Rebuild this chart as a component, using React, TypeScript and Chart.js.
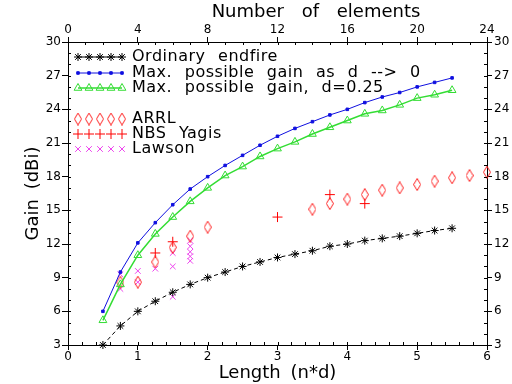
import React, { useEffect, useRef } from "react";
import { Chart, registerables } from "chart.js";
import { drawPoint } from "chart.js/helpers";

Chart.register(...registerables);

// ---- data ----
const lengthPoints = [0.5, 0.75, 1, 1.25, 1.5, 1.75, 2, 2.25, 2.5, 2.75, 3, 3.25, 3.5, 3.75, 4, 4.25, 4.5, 4.75, 5, 5.25, 5.5];
const endfireGain = [3.0, 4.7, 6.0, 6.9, 7.7, 8.4, 9.0, 9.5, 10.0, 10.4, 10.8, 11.1, 11.4, 11.8, 12.0, 12.3, 12.5, 12.7, 12.95, 13.2, 13.4];
const maxGainD0 = [6.0, 9.5, 12.1, 13.9, 15.5, 16.9, 18.0, 19.0, 19.9, 20.8, 21.6, 22.3, 22.9, 23.5, 24.0, 24.6, 25.1, 25.5, 26.0, 26.4, 26.8];
const maxGainD025 = [5.2, 8.4, 11.0, 12.9, 14.4, 15.8, 17.0, 18.1, 18.9, 19.8, 20.5, 21.1, 21.8, 22.4, 23.0, 23.6, 23.9, 24.4, 25.0, 25.3, 25.7];

const arrlLength = [0.75, 1, 1.25, 1.5, 1.75, 2, 3.5, 3.75, 4, 4.25, 4.5, 4.75, 5, 5.25, 5.5, 5.75, 6];
const arrlGain = [8.6, 8.6, 10.4, 11.7, 12.7, 13.5, 15.1, 15.6, 16.0, 16.4, 16.8, 17.0, 17.3, 17.6, 17.9, 18.1, 18.4];

const nbsLength = [1.25, 1.5, 3.0, 3.75, 4.25];
const nbsGain = [11.2, 12.2, 14.4, 16.4, 15.6];

const lawsonLength = [0.75, 0.75, 1, 1, 1.25, 1.5, 1.5, 1.5, 1.75, 1.75, 1.75, 1.75, 1.75];
const lawsonGain = [9.3, 8.0, 9.6, 8.6, 9.8, 11.2, 10.0, 7.3, 12.3, 11.8, 11.3, 10.9, 10.5];

const seriesLabels = [
  "Ordinary endfire",
  "Max. possible gain as d --> 0",
  "Max. possible gain, d=0.25",
  "ARRL",
  "NBS Yagis",
  "Lawson",
];

const lengthTicks = [0, 1, 2, 3, 4, 5, 6];
const elementTicks = [0, 4, 8, 12, 16, 20, 24];
const gainTicks = [3, 6, 9, 12, 15, 18, 21, 24, 27, 30];

const xTitle = "Length (n*d)";
const topTitle = "Number of elements";
const yTitle = "Gain (dBi)";

const FONT = "'DejaVu Sans', sans-serif";

const pts = (xs: number[], ys: number[]) => xs.map((x, i) => ({ x, y: ys[i] }));

function makeDiamond(color: string) {
  const c = document.createElement("canvas");
  c.width = 8;
  c.height = 13;
  const g = c.getContext("2d")!;
  g.strokeStyle = color;
  g.lineWidth = 1;
  g.beginPath();
  g.moveTo(4, 0.5);
  g.lineTo(7.5, 6.5);
  g.lineTo(4, 12.5);
  g.lineTo(0.5, 6.5);
  g.closePath();
  g.stroke();
  return c;
}

export default function App() {
  const ref = useRef<HTMLCanvasElement>(null);

  useEffect(() => {
    if (!ref.current) return;
    const diamond = makeDiamond("#ff2020");

    const styles = [
      { color: "#000000", fill: "rgba(0,0,0,0)", pointStyle: "star", radius: 4, line: true, lineWidth: 1, dash: [4, 3] },
      { color: "#1010e0", fill: "#1010e0", pointStyle: "rect", radius: 1.8, line: true, lineWidth: 1, dash: [] },
      { color: "#33dd33", fill: "rgba(0,0,0,0)", pointStyle: "triangle", radius: 4.5, line: true, lineWidth: 1.5, dash: [] },
      { color: "#ff2020", fill: "rgba(0,0,0,0)", pointStyle: diamond as any, radius: 5, line: false, lineWidth: 1, dash: [] },
      { color: "#ff0000", fill: "rgba(0,0,0,0)", pointStyle: "cross", radius: 5, line: false, lineWidth: 1, dash: [] },
      { color: "#ee44ee", fill: "rgba(0,0,0,0)", pointStyle: "crossRot", radius: 4, line: false, lineWidth: 1, dash: [] },
    ];

    const seriesData = [
      pts(lengthPoints, endfireGain),
      pts(lengthPoints, maxGainD0),
      pts(lengthPoints, maxGainD025),
      pts(arrlLength, arrlGain),
      pts(nbsLength, nbsGain),
      pts(lawsonLength, lawsonGain),
    ];

    const datasets = seriesData.map((d, i) => {
      const s = styles[i];
      return {
        label: seriesLabels[i],
        data: d,
        xAxisID: "x",
        yAxisID: "y",
        showLine: s.line,
        borderColor: s.color,
        borderWidth: s.lineWidth,
        borderDash: s.dash,
        backgroundColor: s.fill,
        pointStyle: s.pointStyle,
        pointRadius: s.radius,
        pointBorderWidth: 1,
        pointBorderColor: s.color,
        pointBackgroundColor: s.fill,
        tension: 0,
        clip: false as any,
      };
    });

    const decor = {
      id: "decor",
      beforeDraw(chart: any) {
        const ctx = chart.ctx;
        ctx.save();
        ctx.fillStyle = "#ffffff";
        ctx.fillRect(0, 0, chart.width, chart.height);
        ctx.restore();
        (ctx as any).wordSpacing = "4px";
      },
      afterDraw(chart: any) {
        const ctx = chart.ctx as CanvasRenderingContext2D;
        const { x, x2, y, y2 } = chart.scales;
        const area = chart.chartArea;
        ctx.save();
        ctx.strokeStyle = "#000";
        ctx.lineWidth = 1;
        ctx.beginPath();
        // inward minor ticks
        for (let v = 0; v <= 6.0001; v += 0.2) {
          const px = Math.round(x.getPixelForValue(v)) + 0.5;
          ctx.moveTo(px, area.bottom);
          ctx.lineTo(px, area.bottom - 3);
        }
        for (let v = 0; v <= 24; v += 1) {
          const px = Math.round(x2.getPixelForValue(v)) + 0.5;
          ctx.moveTo(px, area.top);
          ctx.lineTo(px, area.top + 3);
        }
        for (let v = 3; v <= 30; v += 1) {
          const py = Math.round(y.getPixelForValue(v)) + 0.5;
          ctx.moveTo(area.left, py);
          ctx.lineTo(area.left + 3, py);
          const py2 = Math.round(y2.getPixelForValue(v)) + 0.5;
          ctx.moveTo(area.right, py2);
          ctx.lineTo(area.right - 3, py2);
        }
        ctx.stroke();

        // top title
        ctx.fillStyle = "#000";
        ctx.font = `18px ${FONT}`;
        (ctx as any).wordSpacing = "12px";
        ctx.textAlign = "center";
        ctx.textBaseline = "middle";
        ctx.fillText(topTitle, 316, 12);

        // legend
        const rows = [57, 73, 88, 119, 134, 149];
        const markX = [78, 89, 100, 111, 122];
        ctx.font = `16px ${FONT}`;
        (ctx as any).wordSpacing = "7px";
        (ctx as any).letterSpacing = "0.5px";
        ctx.textAlign = "left";
        rows.forEach((ry, i) => {
          const s = styles[i];
          if (s.line) {
            ctx.strokeStyle = s.color;
            ctx.lineWidth = s.lineWidth;
            ctx.beginPath();
            ctx.moveTo(markX[0], ry);
            ctx.lineTo(markX[4], ry);
            ctx.stroke();
          }
          ctx.strokeStyle = s.color;
          ctx.fillStyle = s.fill;
          ctx.lineWidth = 1;
          markX.forEach((mx) => {
            drawPoint(ctx, { pointStyle: s.pointStyle, radius: s.radius, rotation: 0, borderWidth: 1 } as any, mx, ry);
          });
          ctx.fillStyle = "#000";
          ctx.fillText(seriesLabels[i], 132, ry);
        });
        ctx.restore();
      },
    };

    const tickFont = { family: FONT, size: 12 };
    const titleFont = { family: FONT, size: 18 };
    const grid = { drawOnChartArea: false, drawTicks: true, tickLength: 5, color: "#000", tickColor: "#000", lineWidth: 1 };
    const border = { display: true, color: "#000", width: 1 };

    const chart = new Chart(ref.current, {
      type: "scatter",
      data: { datasets: datasets as any },
      plugins: [decor],
      options: {
        responsive: false,
        animation: false,
        events: [],
        layout: { padding: 0 },
        plugins: { legend: { display: false }, tooltip: { enabled: false }, title: { display: false } },
        scales: {
          x: {
            type: "linear",
            axis: "x",
            position: "bottom",
            min: 0,
            max: 6,
            afterBuildTicks: (s: any) => { s.ticks = lengthTicks.map((v) => ({ value: v })); },
            afterFit: (s: any) => { s.height = 39; },
            grid,
            border,
            ticks: { color: "#000", font: tickFont, padding: 0, maxRotation: 0, autoSkip: false },
            title: { display: true, text: xTitle, color: "#000", font: titleFont, padding: { top: 0, bottom: 0 } },
          },
          x2: {
            type: "linear",
            axis: "x",
            position: "top",
            min: 0,
            max: 24,
            afterBuildTicks: (s: any) => { s.ticks = elementTicks.map((v) => ({ value: v })); },
            afterFit: (s: any) => { s.height = 42; },
            grid,
            border,
            ticks: { color: "#000", font: tickFont, padding: 0, maxRotation: 0, autoSkip: false },
          },
          y: {
            type: "linear",
            axis: "y",
            position: "left",
            min: 3,
            max: 30,
            afterBuildTicks: (s: any) => { s.ticks = gainTicks.map((v) => ({ value: v })); },
            afterFit: (s: any) => { s.width = 68; },
            grid: { ...grid, tickLength: 6 },
            border,
            ticks: { color: "#000", font: tickFont, padding: 1, autoSkip: false },
            title: { display: true, text: yTitle, color: "#000", font: titleFont, padding: { top: 23, bottom: 0 } },
          },
          y2: {
            type: "linear",
            axis: "y",
            position: "right",
            min: 3,
            max: 30,
            afterBuildTicks: (s: any) => { s.ticks = gainTicks.map((v) => ({ value: v })); },
            afterFit: (s: any) => { s.width = 25; },
            grid,
            border,
            ticks: { color: "#000", font: tickFont, padding: 2, autoSkip: false },
          },
        },
      } as any,
    });
    return () => chart.destroy();
  }, []);

  return (
    <div style={{ position: "fixed", left: 0, top: 0, width: 512, height: 384, background: "#fff" }}>
      <canvas ref={ref} width={512} height={384} />
    </div>
  );
}
